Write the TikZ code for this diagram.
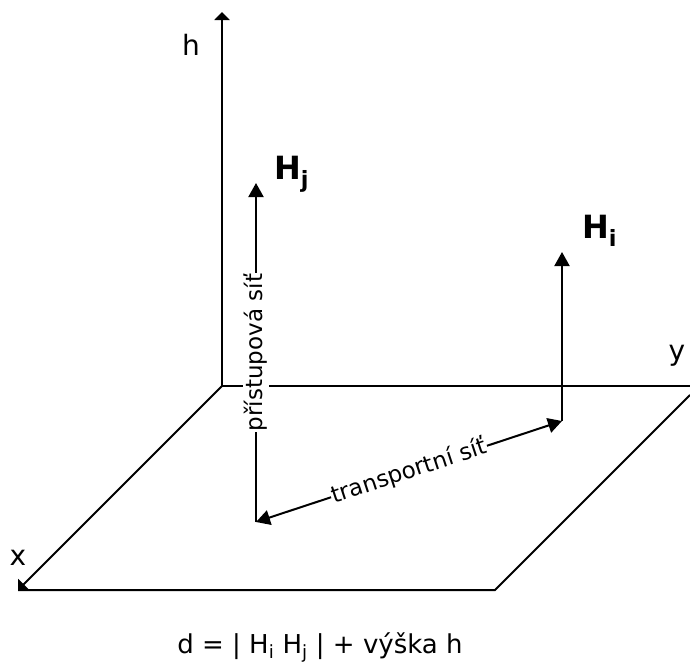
\documentclass[tikz,border=0pt]{standalone}
\usepackage{fontspec}
\setmainfont{DejaVu Sans}
\usetikzlibrary{arrows.meta, positioning, calc}

\begin{document}
\begin{tikzpicture}[
    x=1pt, y=-1pt,
    axis/.style={line width=2pt, -{Triangle[length=8pt, width=15pt]}},
    edge/.style={line width=2pt},
    vec/.style={line width=2pt, -{Triangle[length=14pt, width=15pt]}},
    dvec/.style={line width=2pt, {Triangle[length=14pt, width=15pt]}-{Triangle[length=14pt, width=15pt]}},
    lbl/.style={font=\fontsize{23}{27}\selectfont, inner sep=1pt},
    albl/.style={font=\fontsize{28}{32}\selectfont, anchor=base, inner sep=0pt},
    hlbl/.style={font=\fontsize{32}{36}\selectfont\bfseries, anchor=base west, inner sep=0pt},
  ]
  \useasboundingbox (0,0) rectangle (690,662);

  \coordinate (o)  at (222,386);
  \coordinate (ht) at (222,12);
  \coordinate (ye) at (690,386);
  \coordinate (xe) at (18,590);
  \coordinate (pb) at (495,590);
  \coordinate (pr) at (690,395);
  \coordinate (jb) at (256,522);
  \coordinate (jt) at (256,183);
  \coordinate (ib) at (562,421);
  \coordinate (it) at (562,252);

  \draw[edge] (o) -- (ye);
  \draw[edge] (xe) -- (pb) -- (pr);
  \draw[axis] (o) -- (ht);
  \draw[axis] (o) -- (xe);

  \node[albl] (hl) at (191,55)  {h};
  \node[albl] (xl) at (18,565)  {x};
  \node[albl] (yl) at (677,360) {y};

  \draw[vec] (jb) -- node[lbl, fill=white, sloped] (pl) {přístupová síť} (jt);
  \draw[vec] (ib) -- (it);
  \draw[dvec] (jb) -- node[lbl, fill=white, sloped] (tl) {transportní síť} (ib);

  \node[hlbl] (hj) at (274,179) {H\textsubscript{j}};
  \node[hlbl] (hi) at (582,238) {H\textsubscript{i}};

  \node[font=\fontsize{26}{30}\selectfont, anchor=base, inner sep=0pt] (dl) at (320,653)
    {d = | H\textsubscript{i} H\textsubscript{j} | + výška h};
\end{tikzpicture}
\end{document}
